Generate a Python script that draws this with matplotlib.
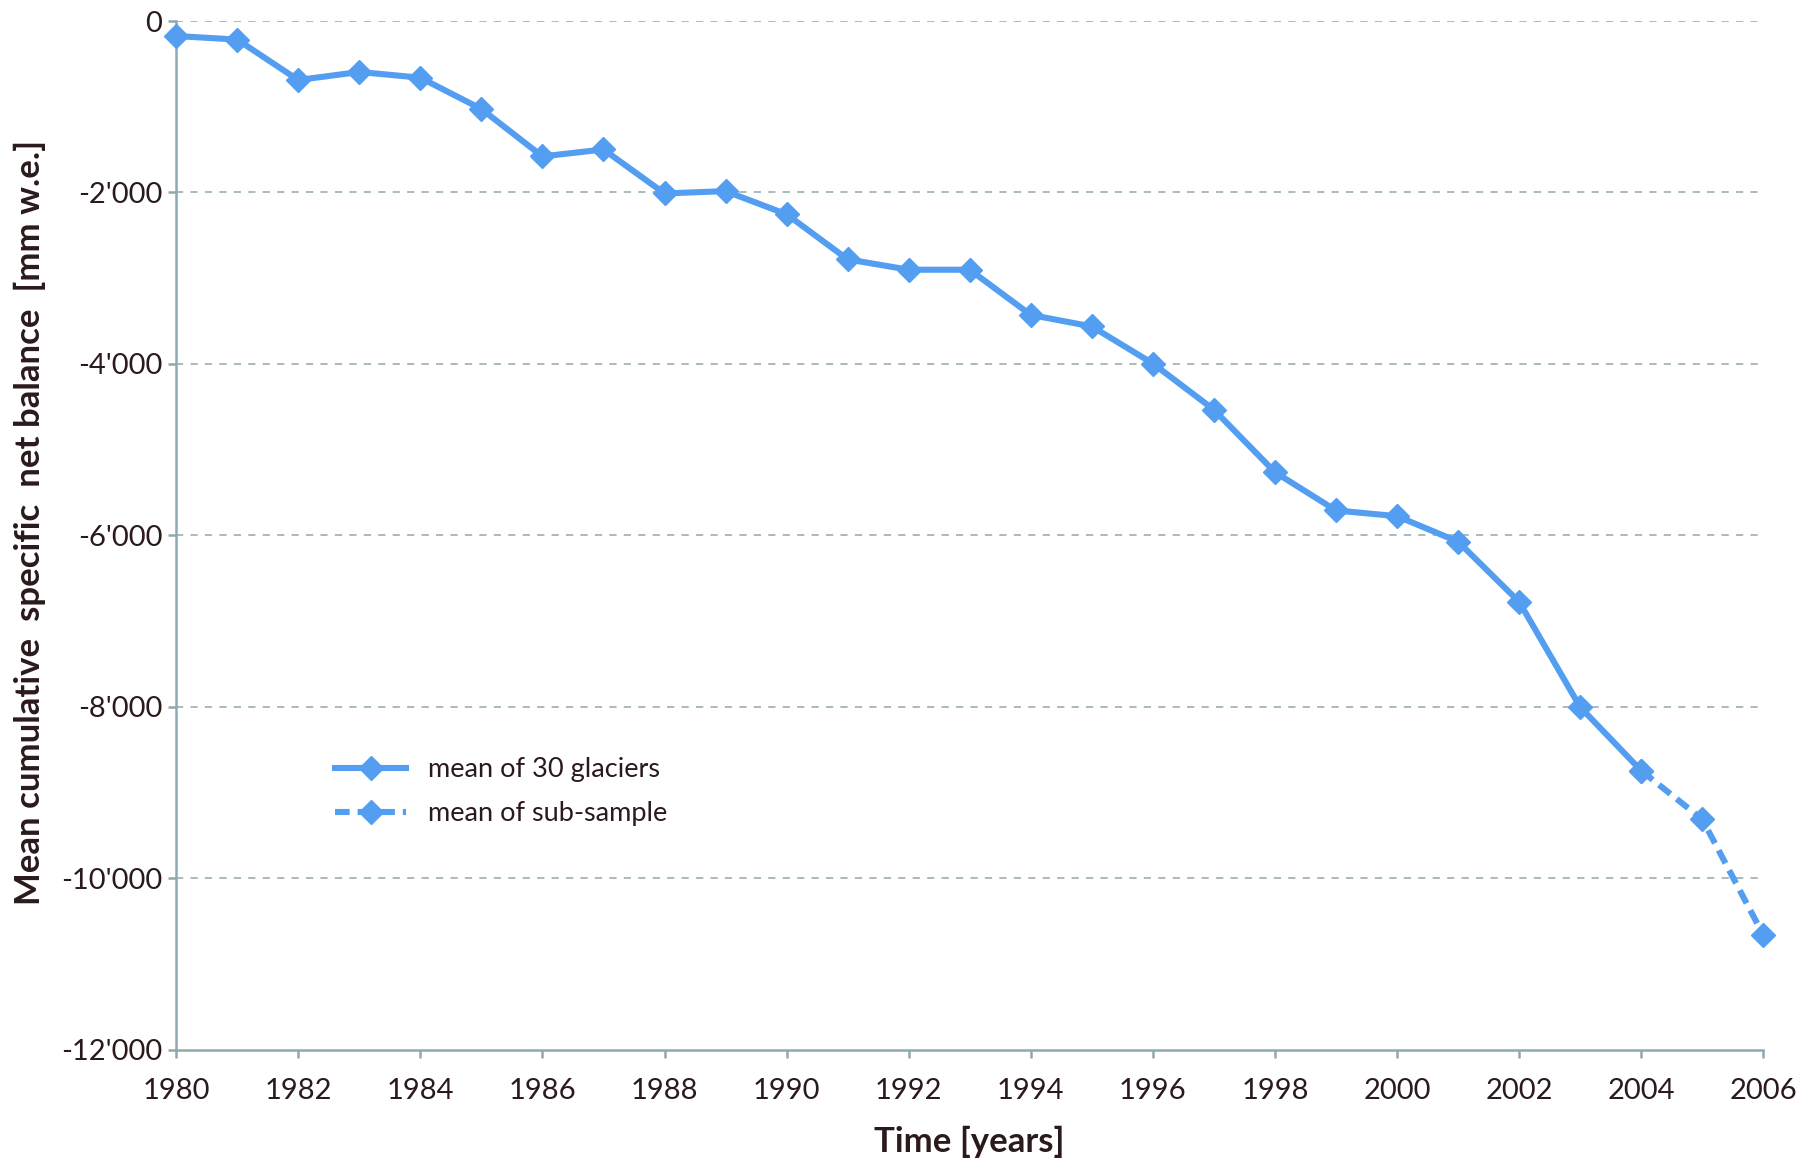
import matplotlib.pyplot as plt
from matplotlib.ticker import FuncFormatter

plt.rcParams['font.family'] = ['Lato', 'DejaVu Sans']

# cumulative specific net balance, mm w.e.
years_main = [1980, 1981, 1982, 1983, 1984, 1985, 1986, 1987, 1988, 1989,
              1990, 1991, 1992, 1993, 1994, 1995, 1996, 1997, 1998, 1999,
              2000, 2001, 2002, 2003, 2004]
balance_main = [-175, -216, -688, -594, -661, -1026, -1579, -1498, -2011, -1984,
                -2254, -2780, -2901, -2901, -3428, -3563, -3995, -4534, -5263, -5709,
                -5776, -6073, -6775, -8003, -8745]
years_sub = [2004, 2005, 2006]
balance_sub = [-8745, -9312, -10661]

blue = '#539ef0'
axis_col = '#8fa9b0'
text_col = '#2b1a1c'

fig = plt.figure(figsize=(18.16, 11.69), dpi=100)
ax = fig.add_axes([0.097, 0.102, 0.874, 0.880])

ax.plot(years_main, balance_main, color=blue, lw=4.4, marker='D', ms=12,
        label='mean of 30 glaciers', clip_on=False, zorder=3)
ax.plot(years_sub, balance_sub, color=blue, lw=4.4, ls=(0, (2.4, 1.3)), marker='D', ms=12,
        label='mean of sub-sample', clip_on=False, zorder=3)

ax.set_xlim(1980, 2006)
ax.set_ylim(-12000, 0)
ax.set_xticks(range(1980, 2007, 2))
ax.set_yticks(range(-12000, 1, 2000))
ax.yaxis.set_major_formatter(FuncFormatter(lambda v, p: f"{int(v):,}".replace(',', "'")))

for y in range(-10000, 1, 2000):
    ax.axhline(y, color='#a3b5b8', lw=1.3, ls=(0, (4, 4)), zorder=1)

for s in ['top', 'right']:
    ax.spines[s].set_visible(False)
for s in ['left', 'bottom']:
    ax.spines[s].set_color(axis_col)
    ax.spines[s].set_linewidth(1.8)

ax.tick_params(axis='both', colors=axis_col, labelcolor=text_col, labelsize=21,
               length=6, width=1.8, direction='out')
ax.tick_params(axis='x', pad=14)
ax.tick_params(axis='y', pad=4)

ax.set_xlabel('Time [years]', fontsize=25, fontweight='bold', color=text_col, labelpad=16)
ax.set_ylabel('Mean cumulative  specific  net balance  [mm w.e.]', fontsize=25,
              fontweight='bold', color=text_col, labelpad=4)
ax.yaxis.set_label_coords(-0.082, 0.513)

ax.legend(loc='upper left', bbox_to_anchor=(0.085, 0.308), frameon=False, fontsize=19.5,
          handlelength=2.6, labelspacing=0.7, labelcolor=text_col)

fig.savefig('out.png', dpi=100, facecolor='white')
